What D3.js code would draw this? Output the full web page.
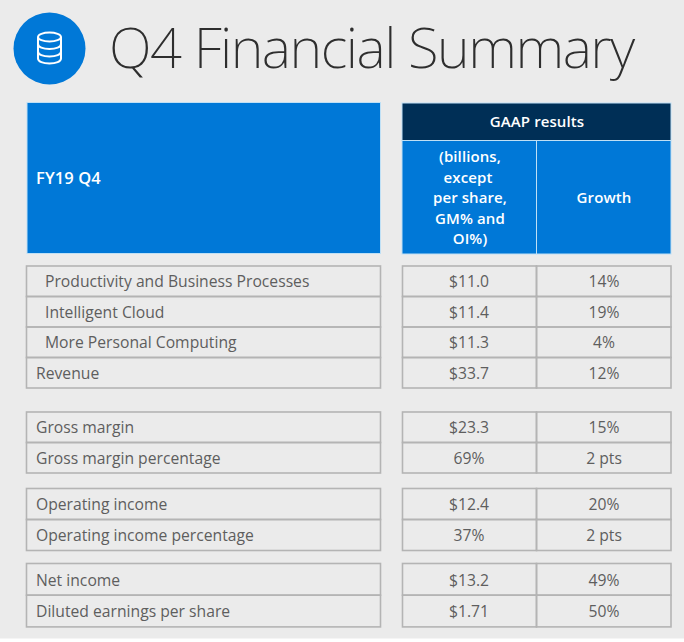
<!DOCTYPE html>
<html><head><meta charset="utf-8">
<script src="https://cdn.jsdelivr.net/npm/d3@7"></script>
<style>html,body{margin:0;padding:0;background:#fff}svg{display:block}text{font-family:"Open Sans",sans-serif}</style>
</head><body><div id="c"></div>
<script>
const title = "Q4 Financial Summary";
const periodLabel = "FY19 Q4";
const gaapHeader = "GAAP results";
const unitsHeader = ["(billions,", "except", "per share,", "GM% and", "OI%)"];
const growthHeader = "Growth";
const rowLabels = ["Productivity and Business Processes","Intelligent Cloud","More Personal Computing","Revenue",
  "Gross margin","Gross margin percentage","Operating income","Operating income percentage","Net income","Diluted earnings per share"];
const gaapValues = ["$11.0","$11.4","$11.3","$33.7","$23.3","69%","$12.4","37%","$13.2","$1.71"];
const growthValues = ["14%","19%","4%","12%","15%","2 pts","20%","2 pts","49%","50%"];
const rowGroups = [0,0,0,0,1,1,2,2,3,3];
const rowIndented = [true,true,true,false,false,false,false,false,false,false];

const W=684,H=642;
const svg=d3.select("#c").append("svg").attr("width",W).attr("height",H);
svg.append("rect").attr("width",W).attr("height",638.5).attr("fill","#ebebeb");

const BLUE="#0078d7",NAVY="#002f56",LINE="#b4b4b4",TXT="#5e5e5e";

// icon
const ic=svg.append("g");
ic.append("circle").attr("cx",49.5).attr("cy",48.5).attr("r",36).attr("fill",BLUE);
const db=ic.append("g").attr("fill","none").attr("stroke","#fff").attr("stroke-width",2);
db.append("ellipse").attr("cx",49.5).attr("cy",37).attr("rx",11.5).attr("ry",4.5);
db.append("path").attr("d","M38 37V58.5c0 3 5 5 11.5 5S61 61.500 61 58.500V37");
db.append("path").attr("d","M38 44c0 3 5 5 11.5 5S61 47 61 44");
db.append("path").attr("d","M38 51.500c0 3 5 5 11.5 5S61 54.500 61 51.500");

svg.append("text").attr("x",109).attr("y",68).attr("font-size",56).attr("font-weight",200)
  .attr("letter-spacing",-1.45).attr("fill","#2e2e2e").style("font-family","'Noto Sans'").text(title);

// header
const hdr=svg.append("g");
const box=(x,y,w,h,f)=>hdr.append("rect").attr("x",x).attr("y",y).attr("width",w).attr("height",h).attr("fill",f).attr("stroke","#bfe0f5").attr("stroke-width",1);
box(27,102.5,353.5,151,BLUE);
box(402,103,269,37.5,NAVY);
box(402,140.5,134.5,113.5,BLUE);
box(536.5,140.5,134.5,113.5,BLUE);
const ht=(x,y,s,a,fs)=>hdr.append("text").attr("x",x).attr("y",y).attr("text-anchor",a||"middle").attr("font-size",fs||15).attr("font-weight",600).attr("fill","#fff").attr("letter-spacing",0.1).text(s);
ht(36,184,periodLabel,"start",16.5);
ht(537,127,gaapHeader);
ht(604,203,growthHeader);
const uy=d3.scalePoint().domain(d3.range(unitsHeader.length)).range([162,244]);
const ux=[470,468,470,470,470];
unitsHeader.forEach((s,i)=>ht(ux[i],uy(i),s));

// rows
const groupTop=[266,412,488.5,563.5], rowH=[30.5,30.5,31,31.7];
const rowY=rowLabels.map((_,i)=>{const g=rowGroups[i];const k=rowGroups.slice(0,i).filter(v=>v===g).length;return groupTop[g]+k*rowH[g];});
const cols=[{x:26.5,w:354},{x:402.5,w:134},{x:536.5,w:134.5}];
const rows=svg.append("g").selectAll("g").data(rowLabels).join("g").attr("transform",(d,i)=>`translate(0,${rowY[i]})`);
cols.forEach(c=>rows.append("rect").attr("x",c.x).attr("width",c.w).attr("height",(d,i)=>rowH[rowGroups[i]]).attr("fill","none").attr("stroke",LINE).attr("stroke-width",1.6));
const lab=(sel,x,a,f)=>sel.append("text").attr("x",x).attr("y",(d,i)=>rowH[rowGroups[i]]/2+6.2).attr("text-anchor",a).attr("font-size",15.7).attr("fill",TXT).text(f);
lab(rows,0,"start",d=>d).attr("x",(d,i)=>rowIndented[i]?45:36);
lab(rows,469,"middle",(d,i)=>gaapValues[i]);
lab(rows,604,"middle",(d,i)=>growthValues[i]);
</script></body></html>
